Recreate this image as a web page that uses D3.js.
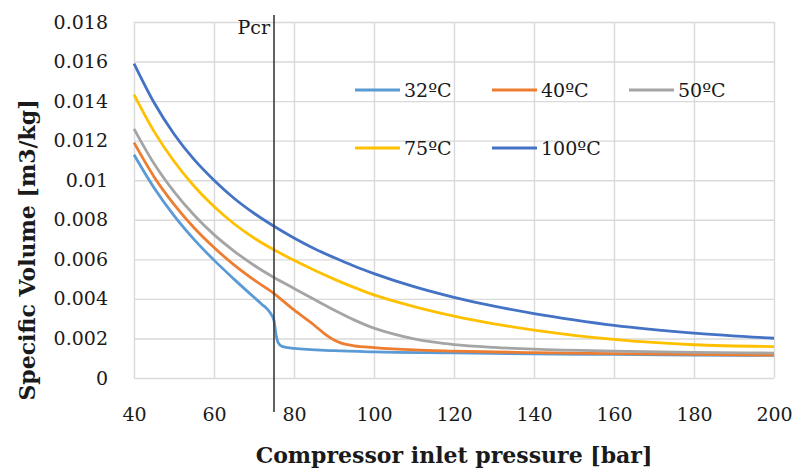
<!DOCTYPE html>
<html>
<head>
<meta charset="utf-8">
<script src="https://cdn.jsdelivr.net/npm/d3@7"></script>
<style>
  body { margin: 0; background: #fff; }
  text { font-family: "DejaVu Serif", serif; fill: #1a1a1a; }
</style>
</head>
<body>
<svg id="drawing_region"></svg>
<script>
// series (pressure in bar, specific volume in m3/kg)
const seriesNames = ["32ºC", "40ºC", "50ºC", "75ºC", "100ºC"];
const seriesColors = ["#5b9bd5", "#ed7d31", "#a5a5a5", "#ffc000", "#4472c4"];

const p32 = [40, 45, 50, 55, 60, 65, 70, 72, 74, 75, 75.5, 76, 77, 80, 90, 100, 120, 140, 160, 180, 200];
const v32 = [0.01129, 0.00962, 0.00821, 0.00701, 0.00596, 0.005, 0.00408, 0.00372, 0.00331, 0.0029, 0.0022, 0.0018, 0.0016, 0.0015, 0.00138, 0.00132, 0.00127, 0.00122, 0.00119, 0.00116, 0.00114];

const p40 = [40, 45, 50, 55, 60, 65, 70, 75, 80, 85, 88, 90, 92, 95, 100, 110, 120, 140, 160, 180, 200];
const v40 = [0.0119, 0.01018, 0.00878, 0.0076, 0.0066, 0.00572, 0.00496, 0.00427, 0.00344, 0.00268, 0.00218, 0.00192, 0.00175, 0.00163, 0.00154, 0.00142, 0.00136, 0.00128, 0.00123, 0.00119, 0.00116];

const p50 = [40, 45, 50, 55, 60, 65, 70, 75, 80, 85, 90, 95, 100, 105, 110, 115, 120, 130, 140, 160, 180, 200];
const v50 = [0.0126, 0.01084, 0.00942, 0.00824, 0.00725, 0.00642, 0.0057, 0.00508, 0.00453, 0.00398, 0.00344, 0.00294, 0.00252, 0.00222, 0.00198, 0.00181, 0.00169, 0.00155, 0.00146, 0.00136, 0.0013, 0.00126];

const p75 = [40, 45, 50, 55, 60, 65, 70, 75, 80, 85, 90, 95, 100, 110, 120, 130, 140, 150, 160, 180, 200];
const v75 = [0.01433, 0.01247, 0.01096, 0.00971, 0.00867, 0.0078, 0.00708, 0.00648, 0.00595, 0.00546, 0.005, 0.00458, 0.0042, 0.00361, 0.00313, 0.00274, 0.00242, 0.00216, 0.00195, 0.00168, 0.00159];

const p100 = [40, 45, 50, 55, 60, 65, 70, 75, 80, 85, 90, 95, 100, 110, 120, 130, 140, 150, 160, 180, 200];
const v100 = [0.0159, 0.01393, 0.01234, 0.01105, 0.01, 0.00909, 0.00833, 0.00767, 0.00708, 0.00655, 0.00609, 0.00566, 0.00528, 0.00462, 0.00408, 0.00363, 0.00326, 0.00294, 0.00266, 0.00227, 0.00201];

const xTicks = [40, 60, 80, 100, 120, 140, 160, 180, 200];
const yTicks = [0, 0.002, 0.004, 0.006, 0.008, 0.01, 0.012, 0.014, 0.016, 0.018];
const pCritical = 75;

const pressures = [p32, p40, p50, p75, p100];
const volumes = [v32, v40, v50, v75, v100];

class LineChart {

    constructor( config, series ) {
        this.config = config;
        this.series = series;
        this.init();
    }

    init() {
        let self = this;

        self.svg = d3.select( self.config.parent )
            .attr('width', self.config.width)
            .attr('height', self.config.height);

        self.chart = self.svg.append('g')
            .attr('transform', `translate(${self.config.margin.left}, ${self.config.margin.top})`);

        self.inner_width = self.config.width - self.config.margin.left - self.config.margin.right;
        self.inner_height = self.config.height - self.config.margin.top - self.config.margin.bottom;

        self.xscale = d3.scaleLinear()
            .domain([40, 200])
            .range([0, self.inner_width]);

        self.yscale = d3.scaleLinear()
            .domain([0, 0.018])
            .range([self.inner_height, 0]);

        // gridlines come from the axes' inner ticks
        self.xaxis = d3.axisBottom( self.xscale )
            .tickValues(xTicks)
            .tickSize(-self.inner_height)
            .tickPadding(30)
            .tickFormat(d3.format('d'));
        self.xaxis_group = self.chart.append('g')
            .attr('transform', `translate(0, ${self.inner_height})`);

        self.yaxis = d3.axisLeft( self.yscale )
            .tickValues(yTicks)
            .tickSize(-self.inner_width)
            .tickPadding(26)
            .tickFormat(d => String(+d.toFixed(3)));
        self.yaxis_group = self.chart.append('g');

        self.line = d3.line()
            .x(d => self.xscale(d.p))
            .y(d => self.yscale(d.v))
            .curve(d3.curveMonotoneX);

        self.svg.append('text')
            .attr('x', 454)
            .attr('y', 463)
            .attr('text-anchor', 'middle')
            .attr('font-weight', 'bold')
            .attr('font-size', '22px')
            .text('Compressor inlet pressure [bar]');

        self.svg.append('text')
            .attr('transform', 'translate(35, 250) rotate(-90)')
            .attr('text-anchor', 'middle')
            .attr('font-weight', 'bold')
            .attr('font-size', '22px')
            .text('Specific Volume [m3/kg]');
    }

    update() {
        let self = this;
        self.render();
    }

    render() {
        let self = this;

        self.xaxis_group.call( self.xaxis );
        self.yaxis_group.call( self.yaxis );

        [self.xaxis_group, self.yaxis_group].forEach(g => {
            g.attr('font-family', null).attr('font-size', null);
            g.select('.domain').remove();
            g.selectAll('.tick line')
                .attr('stroke', '#d9d9d9')
                .attr('stroke-width', 1.4);
            g.selectAll('.tick text')
                .attr('fill', '#1a1a1a')
                .attr('font-size', '19px');
        });

        self.chart.append('g')
            .selectAll('path')
            .data(self.series)
            .join('path')
            .attr('fill', 'none')
            .attr('stroke', d => d.color)
            .attr('stroke-width', 2.8)
            .attr('d', d => self.line(d.values));

        // critical pressure marker
        const xc = self.xscale(pCritical);
        self.chart.append('line')
            .attr('x1', xc).attr('x2', xc)
            .attr('y1', -7).attr('y2', self.inner_height + 34)
            .attr('stroke', '#3a3a3a')
            .attr('stroke-width', 1.6);
        self.chart.append('text')
            .attr('x', xc - 4)
            .attr('y', 12)
            .attr('text-anchor', 'end')
            .attr('font-size', '19px')
            .text('Pcr');

        // legend, 3 per row
        const legend = self.svg.append('g')
            .selectAll('g')
            .data(self.series)
            .join('g')
            .attr('transform', (d, i) => `translate(${355 + (i % 3) * 137}, ${90 + Math.floor(i / 3) * 58})`);
        legend.append('line')
            .attr('x1', 0).attr('x2', 45)
            .attr('stroke', d => d.color)
            .attr('stroke-width', 2.8);
        legend.append('text')
            .attr('x', 49)
            .attr('dy', '0.35em')
            .attr('font-size', '19px')
            .text(d => d.name);
    }
}

const series = seriesNames.map((name, i) => ({
    name: name,
    color: seriesColors[i],
    values: pressures[i].map((p, j) => ({ p: p, v: volumes[i][j] }))
}));

const config = {
    parent: '#drawing_region',
    width: 794,
    height: 471,
    margin: {top: 22, right: 20, bottom: 93, left: 134}
};

const line_chart = new LineChart( config, series );
line_chart.update();
</script>
</body>
</html>
